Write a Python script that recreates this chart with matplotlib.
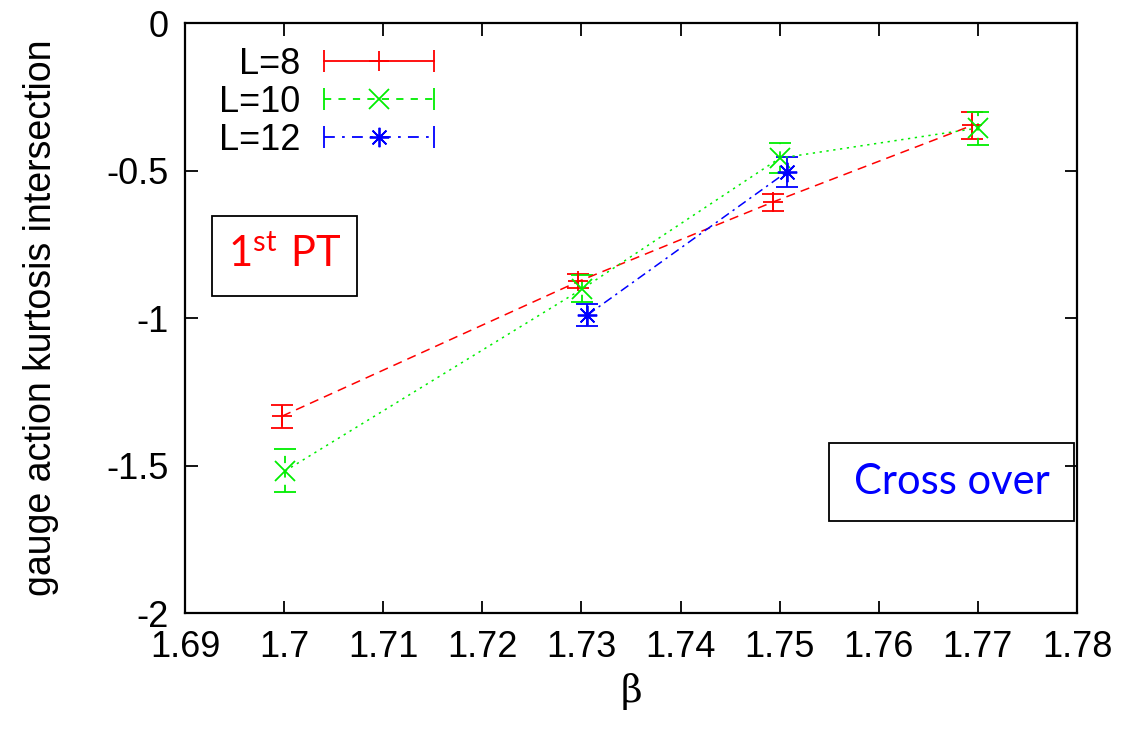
import matplotlib
matplotlib.use("Agg")
import matplotlib.pyplot as plt
from matplotlib.lines import Line2D
from matplotlib.patches import Rectangle
from matplotlib.legend_handler import HandlerLine2D

plt.rcParams['font.family'] = ['Liberation Sans', 'DejaVu Sans']
plt.rcParams['mathtext.fontset'] = 'custom'
plt.rcParams['mathtext.rm'] = 'Lato'

# data
beta_L8 = [1.6998, 1.7297, 1.7493, 1.7694]
kurt_L8 = [-1.332, -0.875, -0.606, -0.346]
err_L8 = [0.039, 0.024, 0.029, 0.046]

beta_L10 = [1.7001, 1.7301, 1.7500, 1.7700]
kurt_L10 = [-1.518, -0.900, -0.457, -0.355]
err_L10 = [0.073, 0.046, 0.050, 0.056]

beta_L12 = [1.7306, 1.7507]
kurt_L12 = [-0.989, -0.504]
err_L12 = [0.039, 0.050]

labels = ["L=8", "L=10", "L=12"]

fig = plt.figure(figsize=(11.22, 7.31), dpi=100)
ax = fig.add_axes([0.1649, 0.1614, 0.7950, 0.8065])

red, green, blue = '#ff0000', '#00ee00', '#0000ff'
asterisk = (8, 2, 0)
# x, y, err, colour, line style, marker, errbar style, legend line style
styles = [
    (beta_L8, kurt_L8, err_L8, red, (0, (6, 4)), '+', '-', '-'),
    (beta_L10, kurt_L10, err_L10, green, (0, (1.5, 3)), 'x', (0, (4, 4)), (0, (4, 4))),
    (beta_L12, kurt_L12, err_L12, blue, (0, (6, 3, 1.5, 3)), asterisk, '-',
     (0, (6, 4, 1.5, 4))),
]
handles = []
hmap = {}
for (bx, ky, ek, c, ls, mk, els, lls), lab in zip(styles, labels):
    line, caps, bars = ax.errorbar(bx, ky, yerr=ek, color=c, ls=ls, lw=1.1,
                                   marker=mk, ms=14, mew=1.3, capsize=8,
                                   capthick=1.3, elinewidth=1.3)
    for b in bars:
        b.set_linestyle(els)
    cap_h = Line2D([], [], color=c, ls=lls, lw=1.3, marker='|', ms=16, mew=1.3)
    mk_h = Line2D([], [], color=c, ls='none', marker=mk, ms=14, mew=1.3)
    hmap[cap_h] = HandlerLine2D(numpoints=2, marker_pad=0)
    hmap[mk_h] = HandlerLine2D(numpoints=1)
    handles.append((cap_h, mk_h))

# markerfirst=False right-aligns the rows, like gnuplot's key
ax.legend(handles, labels, handler_map=hmap, loc='upper left',
          bbox_to_anchor=(0.012, 1.0), frameon=False, markerfirst=False,
          fontsize=26, handlelength=3.05, labelspacing=0.08,
          handletextpad=0.64, borderaxespad=0.25)

ax.set_xlim(1.69, 1.78)
ax.set_ylim(-2, 0)
ax.set_xticks([1.69, 1.70, 1.71, 1.72, 1.73, 1.74, 1.75, 1.76, 1.77, 1.78])
ax.set_xticklabels(["1.69", "1.7", "1.71", "1.72", "1.73", "1.74", "1.75",
                    "1.76", "1.77", "1.78"])
ax.set_yticks([-2, -1.5, -1, -0.5, 0])
ax.set_yticklabels(["-2", "-1.5", "-1", "-0.5", "0"])
ax.tick_params(direction='in', length=9, width=1.3, labelsize=26,
               top=True, right=True, pad=12)
for s in ax.spines.values():
    s.set_linewidth(1.6)

ax.set_ylabel("gauge action kurtosis intersection", fontsize=27, labelpad=34)
ax.set_xlabel("β", fontsize=27, family='DejaVu Serif', labelpad=6)

# annotation boxes
ax.add_patch(Rectangle((0.0303, 0.5377), 0.1625, 0.1358, transform=ax.transAxes,
                       fill=False, ec='black', lw=1.3))
ax.text(0.1116, 0.6056, r"$\mathrm{1^{st}\ PT}$", transform=ax.transAxes,
        color=red, fontsize=30, ha='center', va='center')
ax.add_patch(Rectangle((0.722, 0.156), 0.2746, 0.1324, transform=ax.transAxes,
                       fill=False, ec='black', lw=1.3))
ax.text(0.8593, 0.222, "Cross over", transform=ax.transAxes, color=blue,
        fontsize=30, family='Lato', ha='center', va='center')

fig.savefig("out.png", dpi=100)
